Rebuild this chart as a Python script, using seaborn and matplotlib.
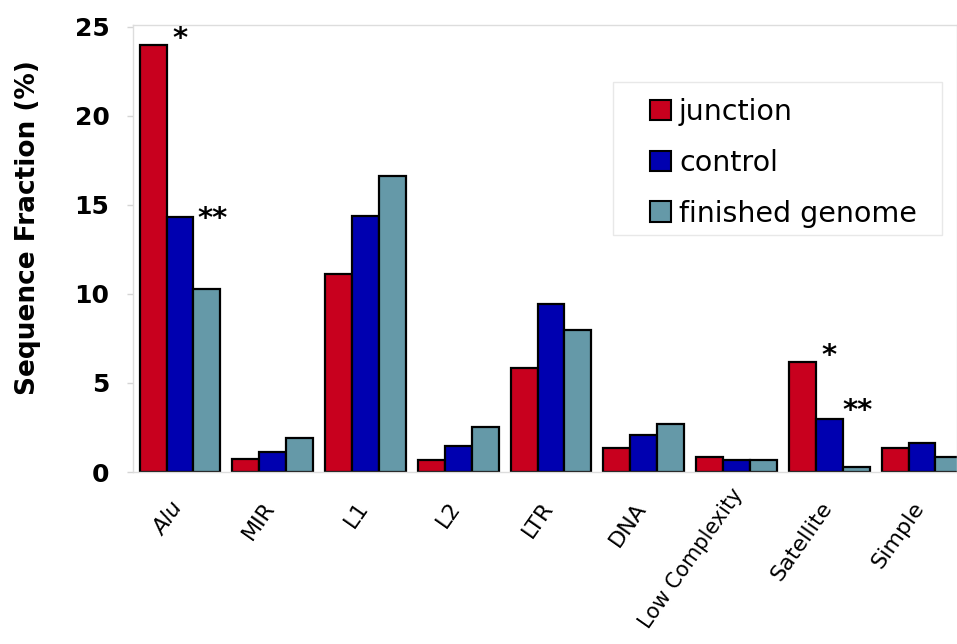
import matplotlib
matplotlib.use("Agg")
import matplotlib.pyplot as plt
import matplotlib.transforms as mtransforms
from matplotlib.patches import Rectangle
import pandas as pd
import seaborn as sns

# Repeat classes and the fraction of sequence (%) each occupies
categories = ["Alu", "MIR", "L1", "L2", "LTR", "DNA", "Low Complexity", "Satellite", "Simple"]
series_names = ["junction", "control", "finished genome"]
junction = [24.0, 0.75, 11.1, 0.65, 5.85, 1.35, 0.85, 6.2, 1.35]
control = [14.3, 1.1, 14.4, 1.45, 9.45, 2.1, 0.7, 3.0, 1.65]
finished_genome = [10.3, 1.9, 16.6, 2.5, 8.0, 2.7, 0.65, 0.3, 0.85]
colors = ["#C8001E", "#0000B0", "#6599A8"]

# Significance marks: (category, series, label, x offset, y offset)
marks = [("Alu", "junction", "*", 0.14, -0.45),
         ("Alu", "control", "**", 0.21, -0.85),
         ("Satellite", "junction", "*", 0.14, -0.45),
         ("Satellite", "control", "**", 0.16, -0.35)]

df = pd.DataFrame({
    "category": categories * 3,
    "series": sum([[s] * len(categories) for s in series_names], []),
    "value": junction + control + finished_genome,
})

sns.set_theme(style="white")
plt.rcParams["font.family"] = ["DejaVu Sans"]
plt.rcParams["text.color"] = "black"
plt.rcParams["xtick.color"] = "black"
plt.rcParams["ytick.color"] = "black"
plt.rcParams["axes.labelcolor"] = "black"

fig = plt.figure(figsize=(9.57, 6.44), dpi=100)
W, H = 957, 644
ax = fig.add_axes([133 / W, 172 / H, 1 - 133 / W, (472 - 25) / H])

group_width = 0.87
sns.barplot(data=df, x="category", y="value", hue="series",
            order=categories, hue_order=series_names,
            palette=colors, saturation=1, width=group_width, gap=0,
            edgecolor="black", linewidth=1.6, ax=ax)

ax.set_xlim(-0.507, 8.377)
ax.set_ylim(0, 25.11)
ax.set_yticks([0, 5, 10, 15, 20, 25])

for side in ["top", "left", "right", "bottom"]:
    ax.spines[side].set_color("#DDDDDD")
    ax.spines[side].set_linewidth(1.0)

ax.tick_params(axis="y", left=True, length=4, width=1, color="#D5D5D5",
               labelcolor="black", pad=13, labelsize=18)
for lbl in ax.get_yticklabels():
    lbl.set_fontweight("bold")

ax.tick_params(axis="x", bottom=False, length=0, pad=19, labelsize=16,
               labelcolor="black")
for lbl in ax.get_xticklabels():
    dx, dy = -10, 0
    if lbl.get_text() == "Low Complexity":
        dx, dy = -6, 14
        lbl.set_fontsize(15)
    if lbl.get_text() == "Alu":
        lbl.set_style("italic")
    shift = mtransforms.ScaledTranslation(dx / 100, dy / 100, fig.dpi_scale_trans)
    lbl.set_rotation(55)
    lbl.set_ha("right")
    lbl.set_va("top")
    lbl.set_rotation_mode("anchor")
    lbl.set_transform(lbl.get_transform() + shift)

ax.set_xlabel("")
ax.set_ylabel("Sequence Fraction (%)", fontsize=19, fontweight="bold",
              color="black")
ax.yaxis.set_label_coords(-0.112, 0.546)

# Significance asterisks next to the top of the marked bars
bar_w = group_width / 3
values = {"junction": junction, "control": control, "finished genome": finished_genome}
for cat, ser, txt, ox, oy in marks:
    i = categories.index(cat)
    j = series_names.index(ser)
    val = values[ser][i]
    right_edge = i - group_width / 2 + (j + 1) * bar_w
    ax.text(right_edge + ox, val + oy, txt, ha="center", va="bottom",
            fontsize=21, fontweight="bold", color="black")

leg = ax.legend(title=None, loc="upper left",
                bbox_to_anchor=(650 / W, 1 - 98 / H),
                bbox_transform=fig.transFigure, borderaxespad=0,
                borderpad=0, fontsize=20.5, handlelength=0.72,
                handleheight=0.72, handletextpad=0.3, labelspacing=0.8,
                frameon=False)
for h in leg.legend_handles:
    h.set_edgecolor("black")
    h.set_linewidth(1.5)
for t in leg.get_texts():
    t.set_color("black")

# Faint frame around the legend
fig.patches.append(Rectangle((613 / W, 1 - 235 / H), (942 - 613) / W,
                             (235 - 82) / H, transform=fig.transFigure,
                             fill=False, edgecolor="#E8E8E8", linewidth=1.0))

fig.savefig("out.png", dpi=100, facecolor="white")
